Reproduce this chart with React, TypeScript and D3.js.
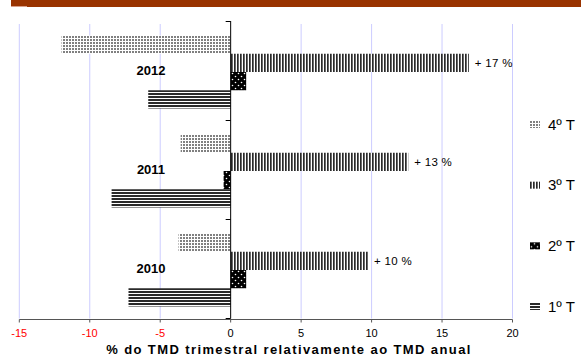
import * as d3 from 'd3';

const years = ['2012', '2011', '2010'];
const quarters = ['4º T', '3º T', '2º T', '1º T'];
const q4 = [-12.0, -3.55, -3.7];
const q3 = [16.9, 12.6, 9.75];
const q2 = [1.1, -0.5, 1.1];
const q1 = [-5.85, -8.45, -7.25];
const growthLabels = ['+ 17 %', '+ 13 %', '+ 10 %'];
const xTicks = [-15, -10, -5, 0, 5, 10, 15, 20];

const W = 581;
const H = 356;
const font = '"Liberation Sans", Arial, sans-serif';

const series = [q4, q3, q2, q1];
const fills = ['url(#p4)', 'url(#p3)', 'url(#p2)', 'url(#p1)'];

export default function App() {
  const x = d3.scaleLinear().domain([-15, 20]).range([19.3, 512.5]);
  const y = d3.scaleBand().domain(years).range([21, 318]);
  const inner = d3
    .scaleBand()
    .domain(quarters)
    .range([14.5, y.bandwidth() - 11.5]);
  const legendY = d3.scalePoint().domain(quarters).range([124, 306]);
  const top = 24;
  const bottom = 318.5;

  return (
    <svg
      width={W}
      height={H}
      style={{ position: 'absolute', left: 0, top: 0, background: '#fff' }}
      fontFamily={font}
    >
      <defs>
        <pattern id="p4" width={3} height={3} patternUnits="userSpaceOnUse">
          <rect width={3} height={3} fill="#fff" />
          <rect width={2} height={2} fill="#808080" />
        </pattern>
        <pattern id="p3" width={3} height={3} patternUnits="userSpaceOnUse">
          <rect width={3} height={3} fill="#fff" />
          <rect width={1.7} height={3} fill="#2a2a2a" />
        </pattern>
        <pattern id="p2" width={6} height={6} patternUnits="userSpaceOnUse">
          <rect width={6} height={6} fill="#000" />
          <circle cx={1.5} cy={1.5} r={0.8} fill="#fff" />
          <circle cx={4.5} cy={4.5} r={0.8} fill="#fff" />
        </pattern>
        <pattern id="p1" width={3} height={3} patternUnits="userSpaceOnUse">
          <rect width={3} height={3} fill="#fff" />
          <rect width={3} height={2} fill="#2a2a2a" />
        </pattern>
      </defs>

      {/* title banner, cut off at the top of the picture */}
      <rect x={11} y={0} width={W - 11} height={7} fill="#993300" />
      <rect x={11} y={6} width={16} height={1} fill="#d9a08a" />

      {/* grid */}
      {xTicks
        .filter((t) => t !== 0)
        .map((t) => (
          <line
            key={t}
            x1={x(t)}
            x2={x(t)}
            y1={top}
            y2={bottom}
            stroke="#ccccff"
            strokeWidth={1}
          />
        ))}

      {/* bars */}
      {years.map((yr, i) => (
        <g key={yr} transform={`translate(0,${y(yr)})`}>
          {quarters.map((q, j) => {
            const v = series[j][i];
            return (
              <rect
                key={q}
                x={Math.min(x(0), x(v))}
                y={inner(q)}
                width={Math.abs(x(v) - x(0))}
                height={inner.bandwidth()}
                fill={fills[j]}
              />
            );
          })}
          <text
            x={x(q3[i]) + 6}
            y={(inner('3º T') || 0) + inner.bandwidth() / 2}
            dominantBaseline="central"
            fontSize={11.5}
            letterSpacing={0.3}
            fill="#000"
          >
            {growthLabels[i]}
          </text>
          <text
            x={151}
            y={y.bandwidth() / 2 - 0.5}
            dominantBaseline="central"
            textAnchor="middle"
            fontSize={13}
            fontWeight="bold"
            fill="#000"
          >
            {yr}
          </text>
        </g>
      ))}

      {/* y axis */}
      <line x1={x(0)} x2={x(0)} y1={21} y2={bottom} stroke="#000" />
      {[...years.map((yr) => y(yr) || 0), 318].map((v, i) => (
        <line key={i} x1={x(0) - 5} x2={x(0)} y1={v + 0.5} y2={v + 0.5} stroke="#000" />
      ))}

      {/* x axis */}
      <line x1={x(-15)} x2={x(20)} y1={bottom + 1} y2={bottom + 1} stroke="#555" />
      {xTicks.map((t) => (
        <g key={t}>
          <line x1={x(t)} x2={x(t)} y1={bottom + 1} y2={bottom + 4} stroke="#555" />
          <text
            x={x(t)}
            y={333}
            dominantBaseline="central"
            textAnchor="middle"
            fontSize={11}
            fill={t < 0 ? '#ff0000' : '#000'}
          >
            {t}
          </text>
        </g>
      ))}
      <text
        x={289}
        y={349}
        dominantBaseline="central"
        textAnchor="middle"
        fontSize={13}
        fontWeight="bold"
        letterSpacing={1.4}
        fill="#000"
      >
        % do TMD trimestral relativamente ao TMD anual
      </text>

      {/* legend */}
      {quarters.map((q, j) => (
        <g key={q} transform={`translate(530,${legendY(q)})`}>
          <rect x={0} y={-3} width={10} height={7} fill={fills[j]} />
          <text x={18} y={0} dominantBaseline="central" fontSize={15} fill="#000">
            {q}
          </text>
        </g>
      ))}
    </svg>
  );
}
